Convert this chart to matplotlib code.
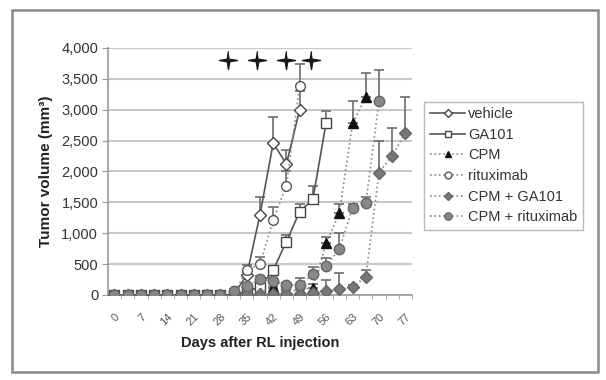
import numpy as np
import matplotlib.pyplot as plt
from matplotlib.path import Path
from matplotlib.patches import Rectangle
from matplotlib.transforms import ScaledTranslation

plt.rcParams['font.family'] = ['Liberation Sans', 'DejaVu Sans']

# measurement days (every 3.5 days) and tick labels
days = np.arange(0, 80, 3.5)
tick_days = [0, 7, 14, 21, 28, 35, 42, 49, 56, 63, 70, 77]
tick_labels = ['0', '7', '14', '21', '28', '35', '42', '49', '56', '63', '70', '77']

nan = np.nan
vehicle = [0]*10 + [320, 1300, 2460, 2120, 3000] + [nan]*8
vehicle_err = [0]*10 + [60, 290, 420, 230, 300] + [nan]*8
ga101 = [0]*10 + [60, 130, 405, 865, 1350, 1550, 2790] + [nan]*6
ga101_err = [0]*10 + [20, 40, 60, 105, 125, 220, 190] + [nan]*6
cpm = [0]*10 + [20, 40, 130, 60, 80, 120, 840, 1325, 2780, 3200] + [nan]*3
cpm_err = [0]*10 + [10, 20, 110, 30, 40, 60, 105, 145, 360, 400] + [nan]*3
rituximab = [0]*10 + [410, 500, 1215, 1770, 3385] + [nan]*8
rituximab_err = [0]*10 + [80, 120, 205, 230, 360] + [nan]*8
cpm_ga101 = [0]*10 + [10, 15, 20, 20, 20, 38, 65, 92, 124, 297, 1980, 2255, 2630]
cpm_ga101_err = [0]*10 + [5, 5, 10, 10, 10, 15, 180, 270, 30, 110, 520, 455, 580]
cpm_rituximab = [0]*9 + [70, 146, 254, 232, 162, 162, 335, 470, 740, 1414, 1485, 3140] + [nan]*2
cpm_rituximab_err = [0]*9 + [20, 40, 60, 50, 40, 120, 125, 125, 270, 60, 110, 510] + [nan]*2

# days marked with a star above the curves
star_days = [30, 37.6, 45.3, 52]
star_level = 3800

series = [
    ('vehicle', vehicle, vehicle_err, '-', 'D', 'white', '#444444', 6),
    ('GA101', ga101, ga101_err, '-', 's', 'white', '#444444', 7),
    ('CPM', cpm, cpm_err, ':', '^', '#111111', '#111111', 7),
    ('rituximab', rituximab, rituximab_err, ':', 'o', 'white', '#555555', 7),
    ('CPM + GA101', cpm_ga101, cpm_ga101_err, ':', 'D', '#777777', '#666666', 6),
    ('CPM + rituximab', cpm_rituximab, cpm_rituximab_err, ':', 'o', '#888888', '#666666', 7.5),
]

fig = plt.figure(figsize=(6.06, 3.8), dpi=100)
ax = fig.add_axes([0.178, 0.2237, 0.502, 0.65])

for name, vals, err, ls, mk, fc, ec, ms in series:
    vals = np.array(vals, dtype=float)
    err = np.array(err, dtype=float)
    lc = '#555555' if ls == '-' else '#888888'
    ax.errorbar(days, vals, yerr=[np.zeros_like(err), err], fmt='none',
                ecolor='#777777', elinewidth=1.3, capsize=3.5, capthick=1.3, zorder=2)
    ax.plot(days, vals, linestyle=ls, color=lc, linewidth=1.2, marker=mk,
            markerfacecolor=fc, markeredgecolor=ec, markersize=ms,
            markeredgewidth=1.0, label=name, zorder=3)

# four-point star marker
t = np.linspace(0, 2*np.pi, 9)[:-1] + np.pi/2
r = np.array([1, 0.2]*4)
star = Path(np.column_stack([r*np.cos(t), r*np.sin(t)]), closed=False)
ax.plot(star_days, [star_level]*len(star_days), linestyle='none',
        marker=star, markersize=13, color='#1a1a1a', zorder=4)

ax.set_xlim(-1.75, 78.75)
ax.set_ylim(0, 4000)
ax.set_yticks(np.arange(0, 4001, 500))
ax.set_yticklabels(['{:,}'.format(v) for v in range(0, 4001, 500)],
                   fontsize=10.5, color='#333333')
ax.set_xticks(tick_days)
ax.set_xticklabels(tick_labels, rotation=45, ha='right', rotation_mode='anchor',
                   fontsize=8, color='#555555')
shift = ScaledTranslation(-0.05, 0, fig.dpi_scale_trans)
for lbl in ax.get_xticklabels():
    lbl.set_transform(lbl.get_transform() + shift)
ax.set_xticks(days + 1.75, minor=True)
ax.tick_params(axis='x', which='major', length=0, pad=12)
ax.tick_params(axis='x', which='minor', length=3, color='#999999')
ax.tick_params(axis='y', length=4, color='#999999', pad=3)
ax.grid(axis='y', color='#c8c8c8', linewidth=1.5)
ax.set_axisbelow(True)
for s in ['top', 'right']:
    ax.spines[s].set_visible(False)
for s in ['left', 'bottom']:
    ax.spines[s].set_color('#999999')
    ax.spines[s].set_linewidth(1.2)

ax.set_ylabel('Tumor volume (mm³)', fontsize=11, fontweight='bold',
              color='#222222', labelpad=6)
ax.set_xlabel('Days after RL injection', fontsize=10.5, fontweight='bold',
              color='#222222', labelpad=6)

leg = fig.legend(loc='upper left', bbox_to_anchor=(0.688, 0.752), fontsize=10.5,
                 frameon=True, fancybox=False, edgecolor='#aaaaaa',
                 handlelength=2.4, handletextpad=0.2, labelspacing=0.45,
                 markerscale=0.7, borderpad=0.4, labelcolor='#333333')
leg.get_frame().set_linewidth(1.0)

# outer frame
fig.patches.append(Rectangle((12/606, 8/380), 586/606, 362/380,
                             transform=fig.transFigure, fill=False,
                             edgecolor='#8a8a8a', linewidth=1.8))

fig.savefig('out.png', dpi=100)
